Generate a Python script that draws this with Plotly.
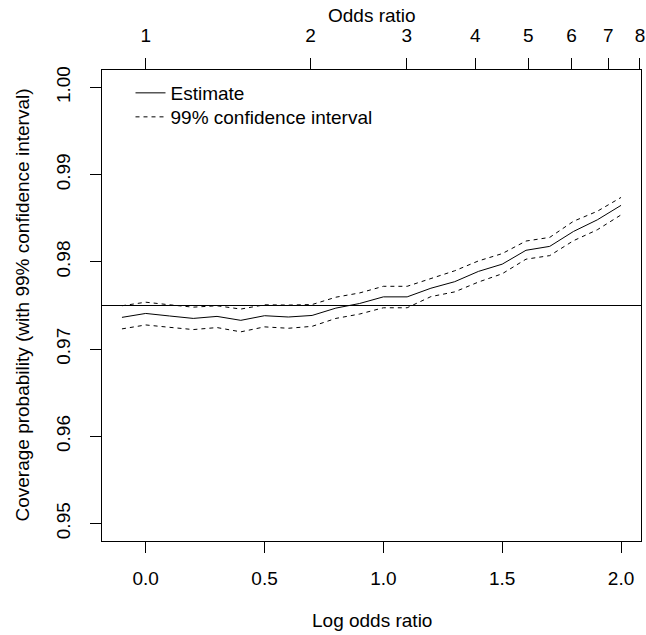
import numpy as np
import plotly.graph_objects as go

log_or = [-0.1, 0.0, 0.1, 0.2, 0.3, 0.4, 0.5, 0.6, 0.7, 0.8, 0.9, 1.0,
          1.1, 1.2, 1.3, 1.4, 1.5, 1.6, 1.7, 1.8, 1.9, 2.0]
estimate = [0.97364, 0.97409, 0.97380, 0.97352, 0.97375, 0.97330, 0.97383,
            0.97368, 0.97386, 0.97470, 0.97523, 0.97599, 0.97599, 0.97698,
            0.97773, 0.97891, 0.97974, 0.98133, 0.98178, 0.98349, 0.98482,
            0.98648]
upper = [0.97497, 0.97538, 0.97508, 0.97481, 0.97497, 0.97459, 0.97508,
         0.97505, 0.97511, 0.97595, 0.97644, 0.97720, 0.97720, 0.97811,
         0.97898, 0.98011, 0.98095, 0.98239, 0.98281, 0.98466, 0.98580,
         0.98739]
lower = [0.97232, 0.97277, 0.97250, 0.97224, 0.97247, 0.97198, 0.97255,
         0.97239, 0.97261, 0.97352, 0.97402, 0.97474, 0.97474, 0.97602,
         0.97656, 0.97769, 0.97864, 0.98031, 0.98072, 0.98243, 0.98368,
         0.98539]
nominal = 0.975
odds_ticks = [1, 2, 3, 4, 5, 6, 7, 8]
x_ticks = [0.0, 0.5, 1.0, 1.5, 2.0]
y_ticks = [0.95, 0.96, 0.97, 0.98, 0.99, 1.00]

FONT = "Liberation Sans, Arial, sans-serif"
FS = 19
xr = [-0.184, 2.084]
yr = [0.948, 1.002]
ML, MR, MT, MB = 102, 5, 70, 94
W, H = 646, 635
pw = W - ML - MR
ph = H - MT - MB

fig = go.Figure()
fig.add_trace(go.Scatter(x=log_or, y=estimate, mode="lines", name="Estimate",
                         legend="legend",
                         line=dict(color="black", width=1)))
fig.add_trace(go.Scatter(x=log_or, y=upper, mode="lines", name="99% confidence interval",
                         legend="legend2",
                         line=dict(color="black", width=1, dash="4px,4px")))
fig.add_trace(go.Scatter(x=log_or, y=lower, mode="lines", showlegend=False,
                         line=dict(color="black", width=1, dash="4px,4px")))
# invisible trace to activate top axis
fig.add_trace(go.Scatter(x=[float(np.log(v)) for v in odds_ticks], y=[nominal] * len(odds_ticks),
                         xaxis="x2", mode="markers", marker=dict(opacity=0),
                         showlegend=False, hoverinfo="skip"))

fig.add_shape(type="line", xref="paper", x0=0, x1=1, yref="y", y0=nominal, y1=nominal,
              line=dict(color="black", width=1))

fig.add_annotation(text="Log odds ratio", xref="paper", yref="paper", x=0.5,
                   y=-(620 - (H - MB)) / ph, xanchor="center", yanchor="middle",
                   showarrow=False, font=dict(size=FS))
fig.add_annotation(text="Odds ratio", xref="paper", yref="paper", x=0.5,
                   y=1 + (MT - 15) / ph, xanchor="center", yanchor="middle",
                   showarrow=False, font=dict(size=FS))
fig.add_annotation(text="Coverage probability (with 99% confidence interval)",
                   xref="paper", yref="paper", x=-(ML - 22) / pw, y=0.5,
                   xanchor="center", yanchor="middle", textangle=-90,
                   showarrow=False, font=dict(size=FS))

common = dict(ticks="outside", ticklen=11, tickwidth=1, tickcolor="black",
              showgrid=False, zeroline=False, automargin=False)
leg_common = dict(xanchor="left", yanchor="middle", bgcolor="rgba(0,0,0,0)",
                  borderwidth=0, font=dict(family=FONT, size=FS), itemwidth=30)
leg_x = (130.5 - ML) / pw

fig.update_layout(
    width=W, height=H,
    margin=dict(l=ML, r=MR, t=MT, b=MB),
    paper_bgcolor="white", plot_bgcolor="white",
    font=dict(family=FONT, size=FS, color="black"),
    showlegend=True,
    legend=dict(x=leg_x, y=1 - (93 - MT) / ph, **leg_common),
    legend2=dict(x=leg_x, y=1 - (117 - MT) / ph, **leg_common),
    xaxis=dict(range=xr, tickvals=x_ticks, ticktext=["0.0", "0.5", "1.0", "1.5", "2.0"],
               showline=True, linecolor="black", linewidth=1, mirror=True,
               ticklabelstandoff=9, **common),
    xaxis2=dict(range=xr, overlaying="x", side="top", anchor="y",
                tickvals=[float(np.log(v)) for v in odds_ticks],
                ticktext=[str(v) for v in odds_ticks],
                showline=False, ticklabelstandoff=8, ticklabeloverflow="allow", **common),
    yaxis=dict(range=yr, tickvals=y_ticks, ticktext=["0.95", "0.96", "0.97", "0.98", "0.99", "1.00"],
               tickangle=-90,
               showline=True, linecolor="black", linewidth=1, mirror=True,
               ticklabelstandoff=12, **common),
)

fig.write_html("out.html", config={"displayModeBar": False},
               post_script="document.body.style.margin='0px';")
